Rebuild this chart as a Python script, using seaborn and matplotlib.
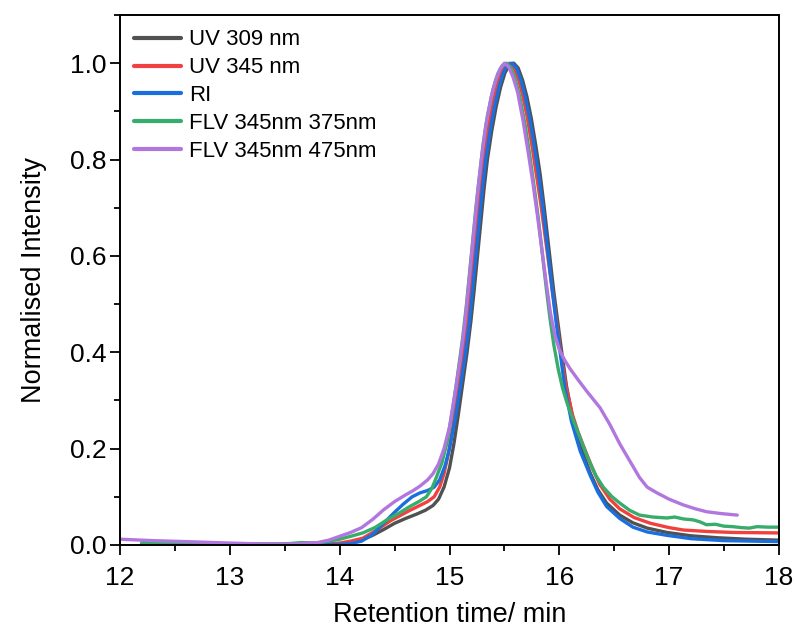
import pandas as pd
import matplotlib
matplotlib.use("Agg")
import matplotlib.pyplot as plt
from matplotlib.ticker import MultipleLocator
import seaborn as sns

# Series (retention time / normalised intensity)
uv309_t = [12.2, 12.6, 13.0, 13.4, 13.8, 14.0, 14.1, 14.2, 14.3, 14.4, 14.5, 14.6, 14.7, 14.78, 14.85,
           14.9, 14.95, 15.0, 15.04, 15.08, 15.12, 15.16, 15.195, 15.225, 15.255, 15.285, 15.315, 15.345,
           15.385, 15.425, 15.465, 15.505, 15.545, 15.585, 15.625, 15.665, 15.705, 15.745, 15.785, 15.825,
           15.86, 15.89, 15.92, 15.95, 15.985, 16.025, 16.065, 16.12, 16.2, 16.28, 16.35, 16.43, 16.55,
           16.67, 16.8, 16.98, 17.2, 17.44, 17.7, 18.0]
uv309_i = [0.004, 0.003, 0.002, 0.001, 0.001, 0.001, 0.004, 0.01, 0.02, 0.032, 0.045, 0.055, 0.064, 0.072, 0.082,
           0.095, 0.12, 0.16, 0.21, 0.27, 0.335, 0.4, 0.465, 0.53, 0.6, 0.67, 0.74, 0.8,
           0.86, 0.91, 0.95, 0.98, 0.996, 1.0, 0.99, 0.965, 0.93, 0.885, 0.83, 0.77,
           0.705, 0.645, 0.585, 0.525, 0.464, 0.395, 0.33, 0.265, 0.2, 0.15, 0.115, 0.087, 0.062,
           0.046, 0.035, 0.026, 0.019, 0.015, 0.012, 0.01]

uv345_t = [12.2, 12.6, 13.0, 13.4, 13.8, 14.0, 14.1, 14.21, 14.33, 14.46, 14.55, 14.64, 14.73, 14.8, 14.86,
           14.91, 14.95, 14.99, 15.03, 15.07, 15.12, 15.16, 15.19, 15.22, 15.25, 15.28, 15.31, 15.35, 15.39,
           15.43, 15.47, 15.51, 15.55, 15.59, 15.63, 15.67, 15.71, 15.75, 15.79, 15.83, 15.865, 15.9, 15.935,
           15.975, 16.015, 16.06, 16.12, 16.17, 16.22, 16.3, 16.37, 16.46, 16.55, 16.68, 16.83, 17.0, 17.13,
           17.35, 17.58, 18.0]
uv345_i = [0.004, 0.003, 0.002, 0.001, 0.001, 0.004, 0.008, 0.014, 0.03, 0.05, 0.061, 0.072, 0.082, 0.09, 0.1,
           0.12, 0.148, 0.19, 0.245, 0.31, 0.385, 0.46, 0.53, 0.6, 0.67, 0.74, 0.8, 0.86, 0.91,
           0.95, 0.98, 0.996, 1.0, 0.99, 0.965, 0.93, 0.885, 0.83, 0.77, 0.71, 0.65, 0.59, 0.53,
           0.464, 0.395, 0.33, 0.27, 0.235, 0.205, 0.16, 0.125, 0.095, 0.075, 0.057, 0.045, 0.036, 0.031,
           0.028, 0.026, 0.025]

ri_t = [12.2, 12.6, 13.0, 13.4, 13.8, 14.0, 14.1, 14.2, 14.3, 14.4, 14.5, 14.58, 14.66, 14.73, 14.8, 14.86,
        14.91, 14.96, 15.0, 15.05, 15.1, 15.14, 15.18, 15.21, 15.24, 15.27, 15.3, 15.33, 15.37, 15.41, 15.45,
        15.49, 15.53, 15.57, 15.61, 15.65, 15.69, 15.73, 15.77, 15.81, 15.845, 15.875, 15.905, 15.935, 15.97,
        16.01, 16.05, 16.11, 16.19, 16.28, 16.35, 16.43, 16.55, 16.67, 16.8, 16.98, 17.2, 17.5, 18.0]
ri_i = [0.002, 0.002, 0.001, 0.001, 0.0, 0.001, 0.003, 0.008, 0.022, 0.045, 0.068, 0.085, 0.1, 0.108, 0.113, 0.12,
        0.135, 0.165, 0.2, 0.26, 0.33, 0.39, 0.46, 0.53, 0.6, 0.67, 0.74, 0.8, 0.86, 0.91, 0.95,
        0.98, 0.996, 1.0, 0.99, 0.965, 0.93, 0.885, 0.83, 0.77, 0.71, 0.65, 0.59, 0.53, 0.464,
        0.395, 0.326, 0.257, 0.195, 0.145, 0.11, 0.08, 0.055, 0.037, 0.027, 0.02, 0.013, 0.009, 0.007]

flv375_t = [12.2, 12.6, 13.0, 13.4, 13.55, 13.65, 13.8, 14.0, 14.1, 14.21, 14.32, 14.43, 14.54, 14.64, 14.72,
            14.79, 14.84, 14.88, 14.93, 14.98, 15.02, 15.06, 15.09, 15.12, 15.155, 15.185, 15.215, 15.245,
            15.275, 15.305, 15.345, 15.395, 15.44, 15.48, 15.52, 15.56, 15.6, 15.64, 15.69, 15.73, 15.77,
            15.81, 15.845, 15.88, 15.915, 15.95, 15.99, 16.03, 16.07, 16.13, 16.19, 16.26, 16.33, 16.4,
            16.48, 16.55, 16.64, 16.73, 16.85, 16.98, 17.05, 17.13, 17.22, 17.28, 17.34, 17.42, 17.5, 17.58,
            17.66, 17.73, 17.8, 17.9, 18.0]
flv375_i = [0.003, 0.003, 0.002, 0.002, 0.003, 0.005, 0.004, 0.012, 0.018, 0.025, 0.036, 0.052, 0.066, 0.08, 0.09,
            0.1, 0.118, 0.14, 0.17, 0.215, 0.27, 0.33, 0.38, 0.43, 0.5, 0.57, 0.64, 0.71,
            0.77, 0.83, 0.89, 0.945, 0.978, 0.995, 1.0, 0.99, 0.965, 0.93, 0.87, 0.81, 0.745,
            0.675, 0.605, 0.535, 0.47, 0.415, 0.365, 0.325, 0.295, 0.257, 0.222, 0.18, 0.145, 0.12,
            0.1, 0.087, 0.072, 0.062, 0.058, 0.056, 0.058, 0.054, 0.052, 0.048, 0.042, 0.043, 0.039, 0.038,
            0.036, 0.035, 0.038, 0.037, 0.037]

flv475_t = [12.0, 12.3, 12.6, 13.0, 13.3, 13.6, 13.8, 13.9, 14.0, 14.1, 14.2, 14.3, 14.4, 14.5, 14.6,
            14.67, 14.73, 14.8, 14.85, 14.9, 14.95, 15.0, 15.04, 15.07, 15.1, 15.14, 15.17, 15.2, 15.23,
            15.26, 15.29, 15.33, 15.38, 15.42, 15.46, 15.5, 15.54, 15.58, 15.62, 15.67, 15.72, 15.76,
            15.8, 15.84, 15.88, 15.92, 15.96, 16.0, 16.05, 16.1, 16.18, 16.25, 16.37, 16.46, 16.55,
            16.64, 16.73, 16.8, 16.89, 17.0, 17.13, 17.24, 17.34, 17.48, 17.62]
flv475_i = [0.012, 0.009, 0.007, 0.004, 0.002, 0.002, 0.005, 0.01, 0.018, 0.026, 0.036, 0.053, 0.073, 0.09, 0.104,
            0.113, 0.122, 0.135, 0.148, 0.168, 0.2, 0.245, 0.3, 0.345, 0.39, 0.46, 0.53, 0.6, 0.67,
            0.74, 0.8, 0.87, 0.93, 0.965, 0.988, 1.0, 0.992, 0.97, 0.94, 0.88, 0.81, 0.75,
            0.685, 0.615, 0.545, 0.48, 0.435, 0.405, 0.383, 0.365, 0.34, 0.319, 0.285, 0.25, 0.21,
            0.175, 0.14, 0.12, 0.108, 0.095, 0.083, 0.075, 0.069, 0.065, 0.062]

labels = ["UV 309 nm", "UV 345 nm", "RI", "FLV 345nm 375nm", "FLV 345nm 475nm"]
colors = ["#515151", "#F14040", "#1A6FDF", "#37AD6B", "#B177DE"]

# Long-format table for seaborn
series = [(uv309_t, uv309_i), (uv345_t, uv345_i), (ri_t, ri_i), (flv375_t, flv375_i), (flv475_t, flv475_i)]
frames = []
for lab, (t, i) in zip(labels, series):
    frames.append(pd.DataFrame({"time": t, "intensity": i, "detector": lab}))
df = pd.concat(frames, ignore_index=True)

sns.set_theme(style="ticks")
plt.rcParams["font.family"] = ["Liberation Sans", "DejaVu Sans"]
plt.rcParams["text.color"] = "black"
plt.rcParams["axes.labelcolor"] = "black"
plt.rcParams["xtick.color"] = "black"
plt.rcParams["ytick.color"] = "black"

fig = plt.figure(figsize=(7.97, 6.32), dpi=100)
ax = fig.add_axes([0.1506, 0.1377, 0.8268, 0.8386])

sns.lineplot(data=df, x="time", y="intensity", hue="detector", hue_order=labels,
             palette=colors, estimator=None, sort=False, linewidth=2.4, ax=ax)

ax.set_xlim(12, 18)
ax.set_ylim(0, 1.1)
ax.xaxis.set_major_locator(MultipleLocator(1))
ax.xaxis.set_minor_locator(MultipleLocator(0.5))
ax.set_yticks([0, 0.2, 0.4, 0.6, 0.8, 1.0])
ax.yaxis.set_minor_locator(MultipleLocator(0.1))

for s in ax.spines.values():
    s.set_linewidth(1.4)
    s.set_color("black")
ax.tick_params(which="major", length=7, width=1.3, labelsize=19, direction="out")
ax.tick_params(which="minor", length=4, width=1.3, direction="out")
ax.tick_params(axis="x", which="major", pad=8)
ax.tick_params(axis="y", which="major", pad=3)

ax.set_xlabel("Retention time/ min", fontsize=19.5, labelpad=9)
ax.set_ylabel("Normalised Intensity", fontsize=19.5, labelpad=16)

leg = ax.legend(loc="upper left", frameon=False, fontsize=16, handlelength=2.1,
                handletextpad=0.35, labelspacing=0.31, borderaxespad=0.25)
for h in leg.get_lines():
    h.set_linewidth(3)

fig.savefig("out.png", dpi=100)
